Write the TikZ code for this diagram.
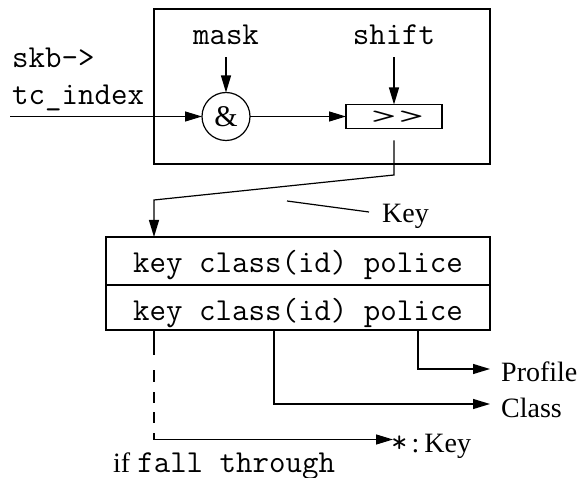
\documentclass[tikz,border=0pt]{standalone}
\usepackage{fontspec}
\setmainfont{Liberation Serif}
\usepackage{graphicx}
\usetikzlibrary{arrows.meta}
\tikzset{
  px/.style={x=1pt,y=-1pt},
  wire/.style={line width=1.2pt},
  flow/.style={wire,-{Triangle[length=17pt,width=10pt]}},
  mono/.style={font=\fontsize{32}{36}\selectfont\ttfamily, inner sep=0pt},
  serif/.style={font=\fontsize{28}{32}\selectfont, inner sep=0pt},
  frame/.style={draw, line width=1.2pt, inner sep=0pt, outer sep=0pt},
  falldash/.style={dash pattern=on 25pt off 15pt on 12pt off 10pt on 11pt off 9pt on 11pt off 10pt on 600pt off 0pt},
}
\begin{document}
\begin{tikzpicture}[px]
\useasboundingbox (0,0) rectangle (581,478);

% classifier: mask, then shift
\node[frame, minimum width=336pt, minimum height=155pt, anchor=north west] (frame) at (154,9) {};
\node[mono, anchor=base, inner ysep=12pt] (mask) at (226,45) {mask};
\node[mono, anchor=base, inner ysep=12pt] (shift) at (394,45) {shift};
\node[frame, circle, minimum size=48pt, font=\fontsize{30}{34}\selectfont] (and) at (226,116.5) {\&};
\node[frame, minimum width=96pt, minimum height=24pt] (shr) at (394,116.5) {};
\node[mono] (shrtxt) at (397.5,117) {\scalebox{1.6}[0.7]{>\kern0.02em>}};

\node[mono, anchor=base west] (skb) at (12,68) {skb->};
\node[mono, anchor=base west] (tci) at (12,105) {tc\_index};
\coordinate (in) at (10,116.5);

\draw[flow] (in) -- (and);
\draw[flow] (mask) -- (and);
\draw[flow] (shift) -- (shr);
\draw[flow] (and) -- (shr);

% key lookup table
\node[frame, minimum width=384pt, minimum height=48pt, anchor=north west] (row1) at (106,237) {};
\node[frame, minimum width=384pt, minimum height=45pt, anchor=north west] (row2) at (106,285) {};
\node[mono, anchor=base] (r1txt) at (298,273) {key class(id) police};
\node[mono, anchor=base] (r2txt) at (298,320) {key class(id) police};

% shifted value becomes the key
\coordinate (k1) at (394,175);
\coordinate (k2) at (154,200);
\draw[flow] ([yshift=-12pt]shr.south) -- (k1) -- (k2) -- (k2 |- row1.north);

\node[serif, anchor=base west] (keylbl) at (382,223) {Key};
\coordinate (kl1) at (287,201);
\coordinate (kl2) at (369,212);
\draw[wire] (kl1) -- (kl2);

% results
\coordinate (ptip) at (490,369);
\coordinate (ctip) at (490,404);
\coordinate (ftip) at (393,439.5);
\node[serif, anchor=base west] (prof) at (501,381) {Profile};
\node[serif, anchor=base west] (cls) at (501,417) {Class};
\node[serif, anchor=base west] (fkey) at (391,452) {{\fontsize{32}{36}\selectfont\ttfamily *}\kern4pt:\kern5pt Key};
\node[serif, anchor=base west] (fall) at (113,472) {if {\fontsize{32}{36}\selectfont\ttfamily fall through}};

\draw[flow] (row2.south -| 418,0) |- (ptip);
\draw[flow] (row2.south -| 274,0) |- (ctip);
\draw[flow, falldash] (row2.south -| 154,0) |- (ftip);
\end{tikzpicture}
\end{document}
